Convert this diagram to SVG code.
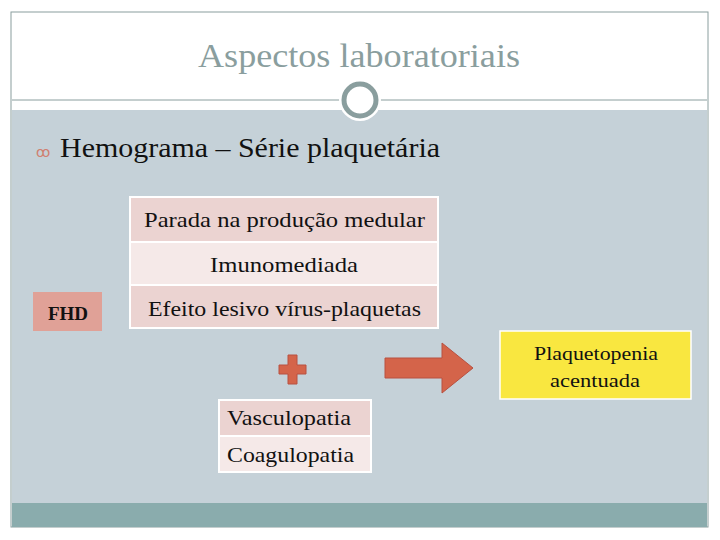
<svg xmlns="http://www.w3.org/2000/svg" width="720" height="540" viewBox="0 0 720 540">
<style>
.t{font-family:"Liberation Serif",serif;fill:#111}
.c1{fill:#ebd3d1;stroke:#fff;stroke-width:2}
.c2{fill:#f5e9e8;stroke:#fff;stroke-width:2}
</style>
<rect width="720" height="540" fill="#fff"/>
<rect x="11" y="12" width="697" height="515" fill="#fff" stroke="#8a9e9e"/>
<rect x="12" y="110" width="695" height="393" fill="#c5d1d8"/>
<line x1="12" y1="100" x2="707" y2="100" stroke="#8a9e9e"/>
<rect x="12" y="503" width="695" height="24" fill="#8aacad"/>
<circle cx="360" cy="100" r="21" fill="#fff"/>
<circle cx="360" cy="100" r="16" fill="#fff" stroke="#8a9e9e" stroke-width="5"/>
<text x="198" y="67" textLength="322" lengthAdjust="spacingAndGlyphs" font-family="Liberation Serif,serif" font-size="34" fill="#8a9e9e">Aspectos laboratoriais</text>
<text x="36" y="157" font-family="DejaVu Sans,sans-serif" font-size="14" fill="#d08070">ꝏ</text>
<text x="60" y="157" class="t" font-size="27" textLength="380" lengthAdjust="spacingAndGlyphs">Hemograma – Série plaquetária</text>
<g id="table1">
<rect class="c1" x="130" y="197" width="308" height="45"/>
<rect class="c2" x="130" y="242" width="308" height="43"/>
<rect class="c1" x="130" y="285" width="308" height="43"/>
<text class="t" x="144" y="227" font-size="22" textLength="281" lengthAdjust="spacingAndGlyphs">Parada na produção medular</text>
<text class="t" x="210" y="272" font-size="22" textLength="148" lengthAdjust="spacingAndGlyphs">Imunomediada</text>
<text class="t" x="148" y="316" font-size="22" textLength="273" lengthAdjust="spacingAndGlyphs">Efeito lesivo vírus-plaquetas</text>
</g>
<g id="fhd">
<rect x="33" y="292" width="69" height="39" fill="#e0a197"/>
<text class="t" x="68" y="320" text-anchor="middle" font-size="19" font-weight="bold">FHD</text>
</g>
<g id="plus">
<path d="M288 355h9v10h9v9h-9v10h-9v-10h-9v-9h9z" fill="#d4644a" stroke="#b85040"/>
</g>
<g id="connectors">
<path d="M385 358h57v-15l31 25l-31 25v-15h-57z" fill="#d4644a" stroke="#b85040"/>
</g>
<g id="result">
<rect x="500" y="331" width="191" height="68" fill="#f9e740" stroke="#fff" stroke-width="1.5"/>
<text class="t" x="534" y="360" font-size="19" textLength="124" lengthAdjust="spacingAndGlyphs">Plaquetopenia</text>
<text class="t" x="550" y="387" font-size="19" textLength="90" lengthAdjust="spacingAndGlyphs">acentuada</text>
</g>
<g id="table2">
<rect class="c1" x="219" y="400" width="152" height="36"/>
<rect class="c2" x="219" y="436" width="152" height="36"/>
<text class="t" x="227" y="425" font-size="22" textLength="124" lengthAdjust="spacingAndGlyphs">Vasculopatia</text>
<text class="t" x="227" y="462" font-size="22" textLength="127" lengthAdjust="spacingAndGlyphs">Coagulopatia</text>
</g>
</svg>
